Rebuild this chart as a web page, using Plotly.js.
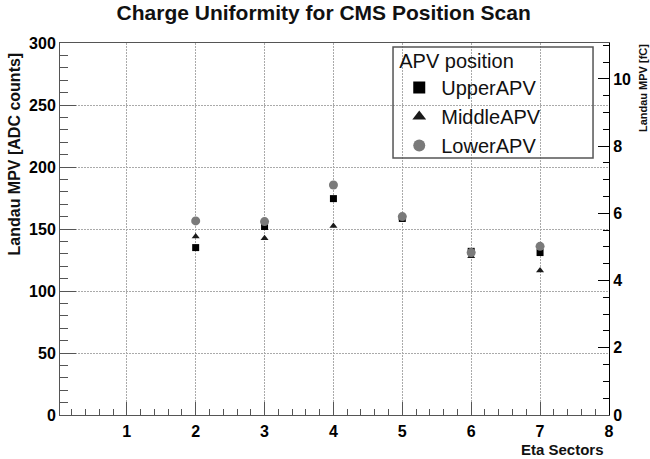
<!DOCTYPE html>
<html>
<head>
<meta charset="utf-8">
<script src="https://cdn.plot.ly/plotly-3.0.1.min.js"></script>
<style>html,body{margin:0;padding:0;background:#fff;}#chart{width:650px;height:459px;}</style>
</head>
<body>
<div id="chart"></div>
<script>
const etaSectors = [2, 3, 4, 5, 6, 7];
const upperAPV  = [135, 152, 174.5, 158.5, 132, 131];
const middleAPV = [144, 142.5, 152.5, 159, 128, 116.5];
const lowerAPV  = [156.5, 156, 185.5, 160, 131, 136];
const seriesNames = ['UpperAPV', 'MiddleAPV', 'LowerAPV'];
const xTickVals = [1, 2, 3, 4, 5, 6, 7, 8];
const yTickVals = [0, 50, 100, 150, 200, 250, 300];
const fcTickVals = [0, 2, 4, 6, 8, 10];

const FONT = 'Liberation Sans, Arial, sans-serif';

const traces = [
  {x: etaSectors, y: upperAPV, name: seriesNames[0], mode: 'markers', type: 'scatter',
   marker: {symbol: 'square', size: 7, color: '#000'}},
  {x: etaSectors, y: middleAPV, name: seriesNames[1], mode: 'markers', type: 'scatter',
   marker: {symbol: 'triangle-up', size: 7, color: '#1a1a1a'}},
  {x: etaSectors, y: lowerAPV, name: seriesNames[2], mode: 'markers', type: 'scatter',
   marker: {symbol: 'circle', size: 9, color: '#7a7a7a'}},
  {x: [], y: [], yaxis: 'y2', type: 'scatter', mode: 'markers', showlegend: false, hoverinfo: 'skip'}
];

const layout = {
  width: 650, height: 459,
  margin: {l: 60, r: 41, t: 43, b: 44},
  paper_bgcolor: '#fff', plot_bgcolor: '#fff',
  font: {family: FONT, color: '#000'},
  showlegend: true,
  title: {text: 'Charge Uniformity for CMS Position Scan', font: {family: FONT, size: 21, weight: 'bold', color: '#111'},
          x: 0.498, xanchor: 'center', y: 0.972, yanchor: 'middle', xref: 'container', yref: 'container'},
  xaxis: {
    range: [0.03, 8.001], tickvals: xTickVals, ticks: 'inside', ticklen: 13, tickcolor: '#555', tickwidth: 1,
    showline: true, linecolor: '#555', linewidth: 1, mirror: true,
    showgrid: true, gridcolor: '#aaa', griddash: '1.5px,1.5px', gridwidth: 1, zeroline: false,
    tickfont: {family: FONT, size: 16, weight: 'bold'}, ticklabelstandoff: 2,
    minor: {dtick: 0.2, tick0: 0, ticks: 'inside', ticklen: 6, tickcolor: '#555', showgrid: false}
  },
  yaxis: {
    range: [0, 300], tickvals: yTickVals, ticks: 'inside', ticklen: 16, tickcolor: '#555', tickwidth: 1,
    showline: true, linecolor: '#555', linewidth: 1, mirror: false,
    showgrid: true, gridcolor: '#aaa', griddash: '1.5px,1.5px', gridwidth: 1, zeroline: false,
    tickfont: {family: FONT, size: 16, weight: 'bold'},
    minor: {dtick: 10, tick0: 0, ticks: 'inside', ticklen: 8, tickcolor: '#555', showgrid: false}
  },
  yaxis2: {
    overlaying: 'y', side: 'right', anchor: 'x',
    range: [0, 11.07], tickvals: fcTickVals, ticks: 'inside', ticklen: 11, tickcolor: '#000', tickwidth: 1,
    showline: true, linecolor: '#000', linewidth: 1, showgrid: false, zeroline: false,
    tickfont: {family: FONT, size: 16, weight: 'bold'},
    minor: {dtick: 0.5, tick0: 0, ticks: 'inside', ticklen: 6, tickcolor: '#000', showgrid: false}
  },
  legend: {
    x: 0.6143, xanchor: 'left', y: 1.003, yanchor: 'top',
    bgcolor: 'rgba(0,0,0,0)', borderwidth: 0,
    font: {family: FONT, size: 20, color: '#111'},
    title: {text: 'APV position', font: {family: FONT, size: 20, color: '#111'}},
    itemsizing: 'constant', itemwidth: 34, tracegroupgap: 0
  },
  shapes: [
    {type: 'rect', xref: 'paper', yref: 'paper', x0: 0.6066, x1: 0.9709, y0: 0.6909, y1: 0.9892,
     line: {color: '#555', width: 1.5}, fillcolor: 'rgba(0,0,0,0)', layer: 'above'}
  ],
  annotations: [
    {text: 'Landau MPV [ADC counts]', xref: 'paper', yref: 'paper', x: -0.082, y: 0.703,
     xanchor: 'center', yanchor: 'middle', textangle: -90, showarrow: false,
     font: {family: FONT, size: 16, weight: 'bold', color: '#111'}},
    {text: 'Landau MPV [fC]', xref: 'paper', yref: 'paper', x: 1.062, y: 0.879,
     xanchor: 'center', yanchor: 'middle', textangle: -90, showarrow: false,
     font: {family: FONT, size: 11, weight: 'bold', color: '#111'}},
    {text: 'Eta Sectors', xref: 'paper', yref: 'paper', x: 0.9945, y: -0.093,
     xanchor: 'right', yanchor: 'middle', showarrow: false,
     font: {family: FONT, size: 15, weight: 'bold', color: '#111'}}
  ]
};

Plotly.newPlot('chart', traces, layout, {displayModeBar: false, staticPlot: true});
</script>
</body>
</html>
